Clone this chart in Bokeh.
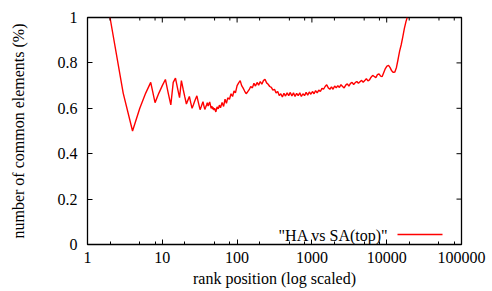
import math
from bokeh.plotting import figure
from bokeh.models import LogAxis, LinearAxis, FixedTicker, Label, Range1d, LogScale
from bokeh.embed import file_html
from bokeh.resources import INLINE

# ---- data ----
rank_head = [2, 3, 4, 5, 6, 7, 8, 9, 10,
             11, 12, 13, 14, 15, 16, 17, 18, 19, 20,
             21, 22, 23, 24, 25, 26, 27, 28, 29, 30,
             31, 32, 33, 34, 35, 36, 37, 38, 39, 40,
             41, 42, 43, 44, 45, 46, 47, 48, 49, 50]
value_head = [1.0, 0.667, 0.5, 0.6, 0.667, 0.714, 0.625, 0.667, 0.7,
              0.727, 0.667, 0.615, 0.714, 0.733, 0.688, 0.647, 0.722, 0.684, 0.65,
              0.619, 0.636, 0.652, 0.625, 0.6, 0.615, 0.63, 0.643, 0.655, 0.633,
              0.613, 0.594, 0.606, 0.618, 0.629, 0.611, 0.595, 0.605, 0.615, 0.625,
              0.61, 0.619, 0.628, 0.614, 0.6, 0.609, 0.596, 0.604, 0.592, 0.6]

rank_tail = [52, 54, 56, 58, 60, 63, 66, 69, 72, 75,
             79, 83, 87, 91, 95, 100, 105, 110, 115, 120,
             126, 132, 138, 145, 152, 160, 168, 176, 185, 194,
             204, 214, 225, 236, 248, 260, 273, 287, 301, 316,
             332, 349, 366, 384, 403, 423, 444, 466, 490, 514,
             540, 567, 595, 625, 656, 689, 723, 759, 797, 837,
             879, 923, 969, 1017, 1068, 1121, 1177, 1236, 1298, 1363,
             1431, 1503, 1578, 1657, 1740, 1827, 1918, 2014, 2115, 2220,
             2331, 2448, 2570, 2699, 2834, 2975, 3124, 3280, 3444, 3617,
             3797, 3987, 4187, 4396, 4616, 4847, 5089, 5343, 5611, 5891,
             6186, 6495, 6820, 7161, 7519, 7895, 8290, 8704, 9139, 9596,
             10076, 10580, 11109, 11664, 12248, 12860, 13503, 14178, 14887, 15632,
             16413, 17234, 18096, 18800]
value_tail = [0.584, 0.606, 0.598, 0.614, 0.602, 0.626, 0.608, 0.640, 0.622, 0.646,
              0.640, 0.664, 0.652, 0.676, 0.668, 0.700, 0.712, 0.722, 0.700, 0.690,
              0.676, 0.664, 0.672, 0.682, 0.696, 0.690, 0.710, 0.698, 0.714, 0.702,
              0.718, 0.706, 0.722, 0.728, 0.712, 0.706, 0.696, 0.692, 0.680, 0.684,
              0.668, 0.674, 0.656, 0.664, 0.650, 0.666, 0.654, 0.668, 0.656, 0.670,
              0.654, 0.668, 0.652, 0.666, 0.656, 0.668, 0.652, 0.664, 0.656, 0.670,
              0.658, 0.672, 0.662, 0.674, 0.664, 0.678, 0.668, 0.680, 0.674, 0.688,
              0.684, 0.696, 0.704, 0.690, 0.684, 0.694, 0.684, 0.698, 0.690, 0.700,
              0.692, 0.704, 0.696, 0.690, 0.702, 0.708, 0.698, 0.710, 0.714, 0.705,
              0.713, 0.718, 0.710, 0.717, 0.723, 0.715, 0.722, 0.731, 0.721, 0.725,
              0.737, 0.745, 0.740, 0.735, 0.748, 0.752, 0.742, 0.740, 0.758, 0.775,
              0.786, 0.789, 0.779, 0.765, 0.758, 0.760, 0.780, 0.815, 0.852, 0.880,
              0.915, 0.952, 0.982, 1.0]

ranks = rank_head + rank_tail
values = value_head + value_tail

x_ticks = [1, 10, 100, 1000, 10000, 100000]
x_tick_labels = ["1", "10", "100", "1000", "10000", "100000"]
x_minor_ticks = [2, 5, 8, 20, 50, 80, 200, 500, 800, 2000, 5000, 8000,
                 20000, 50000, 80000]
y_ticks = [0, 0.2, 0.4, 0.6, 0.8, 1.0]
y_tick_labels = ["0", "0.2", "0.4", "0.6", "0.8", "1"]
series_label = '"HA vs SA(top)"'

FONT = "Liberation Serif"
FS = "16px"

X0, X1 = 1, 100000
Y0, Y1 = 0, 1
FRAME_W, FRAME_H = 374, 227

p = figure(width=492, height=291, x_axis_type=None, y_axis_type=None,
           x_range=Range1d(X0, X1), y_range=Range1d(Y0, Y1),
           toolbar_location=None, output_backend="svg",
           min_border_left=87, min_border_right=31, min_border_top=17,
           min_border_bottom=47)
p.x_scale = LogScale()
p.outline_line_color = "black"
p.outline_line_width = 1.3

r = p.line(ranks, values, line_color="#ff0000", line_width=1.4)

xt = FixedTicker(ticks=x_ticks, minor_ticks=x_minor_ticks)
yt = FixedTicker(ticks=y_ticks, minor_ticks=[])


def style(ax):
    ax.axis_line_color = None
    ax.major_tick_in = 5
    ax.major_tick_out = 0
    ax.minor_tick_in = 3
    ax.minor_tick_out = 0
    ax.major_tick_line_color = "black"
    ax.minor_tick_line_color = "black"
    ax.major_label_text_font = FONT
    ax.major_label_text_font_size = FS
    ax.major_label_text_color = "black"
    ax.axis_label_text_font = FONT
    ax.axis_label_text_font_size = FS
    ax.axis_label_text_font_style = "normal"
    ax.axis_label_text_color = "black"


xb = LogAxis(ticker=xt, axis_label="rank position (log scaled)")
xb.major_label_overrides = dict(zip(x_ticks, x_tick_labels))
style(xb)
xb.major_label_standoff = 7
xb.axis_label_standoff = 4
p.add_layout(xb, "below")

yl = LinearAxis(ticker=yt, axis_label="number of common elements (%)")
yl.major_label_overrides = dict(zip(y_ticks, y_tick_labels))
style(yl)
yl.major_label_standoff = 10
yl.axis_label_standoff = 28
p.add_layout(yl, "left")

# mirrored tick marks on the top and right borders, from the tick arrays
dec_px = FRAME_W / (math.log10(X1) - math.log10(X0))
unit_px = FRAME_H / (Y1 - Y0)
p.segment(x0=x_ticks, x1=x_ticks, y0=[Y1] * len(x_ticks),
          y1=[Y1 - 5 / unit_px] * len(x_ticks), line_color="black", line_width=1)
p.segment(x0=x_minor_ticks, x1=x_minor_ticks, y0=[Y1] * len(x_minor_ticks),
          y1=[Y1 - 3 / unit_px] * len(x_minor_ticks), line_color="black", line_width=1)
p.segment(x0=[X1] * len(y_ticks), x1=[X1 / 10 ** (5 / dec_px)] * len(y_ticks),
          y0=y_ticks, y1=y_ticks, line_color="black", line_width=1)

# legend key: text on the left, line sample on the right (gnuplot style)
key_left_px, key_right_px, key_y_px = 310, 355, 10
p.segment(x0=[X0 * 10 ** (key_left_px / dec_px)], x1=[X0 * 10 ** (key_right_px / dec_px)],
          y0=[Y0 + key_y_px / unit_px], y1=[Y0 + key_y_px / unit_px],
          line_color="#ff0000", line_width=1.4)
p.add_layout(Label(x=301, y=9, x_units="screen", y_units="screen",
                   text=series_label, text_align="right",
                   text_baseline="middle", text_font=FONT,
                   text_font_size=FS, text_color="black"))

open("out.html", "w").write(file_html(p, INLINE))
